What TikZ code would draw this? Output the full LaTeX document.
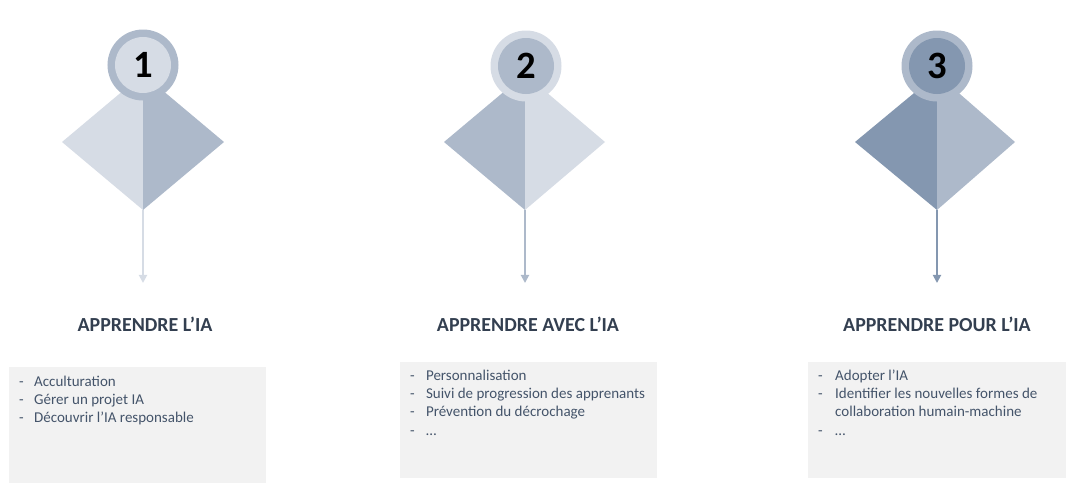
\documentclass[tikz,border=0pt]{standalone}
\usepackage{fontspec}
\setmainfont{Carlito}
\usetikzlibrary{arrows.meta}
\definecolor{pale}{HTML}{D6DCE5}
\definecolor{mid}{HTML}{ADB9CA}
\definecolor{deep}{HTML}{8497B0}
\definecolor{titlegrey}{HTML}{333F50}
\definecolor{listgrey}{HTML}{44546A}
\definecolor{boxgrey}{HTML}{F2F2F2}
\tikzset{
  ring/.style={circle, minimum size=2.13cm, inner sep=0pt},
  disc/.style={circle, minimum size=1.68cm, inner sep=0pt, text=black,
    font=\fontsize{33}{33}\selectfont\bfseries},
  heading/.style={font=\fontsize{17}{19}\selectfont\bfseries, text=titlegrey},
  drop/.style={line width=1.6pt, -{Triangle[length=7pt,width=7pt]}},
  items/.style={anchor=north west, inner sep=0pt, text=listgrey,
    font=\fontsize{12.8}{15.7}\selectfont}
}
\begin{document}
\begin{tikzpicture}[x=0.03cm, y=-0.03cm]
\useasboundingbox (0,0) rectangle (1087,497);
% first column
\fill[pale] (62,142) -- (143,74) -- (143,210) -- cycle;
\fill[mid] (143,74) -- (224,142) -- (143,210) -- cycle;
\coordinate (tip1) at (143,210);
\coordinate (end1) at (143,283);
\draw[drop, pale] (tip1) -- (end1);
\node[ring, fill=mid] (ring1) at (143,65) {};
\node[disc, fill=pale] (num1) at (ring1) {1};
\node[heading] (title1) at (145,324) {APPRENDRE L’IA};
\fill[boxgrey] (9,367) rectangle (266,483);
\node[items] (list1) at (19,373) {\begin{tabular}{@{}p{12.75pt}@{}l@{}}
- & Acculturation\\
- & Gérer un projet IA\\
- & Découvrir l’IA responsable
\end{tabular}};
% second column
\fill[mid] (444,142) -- (525,74) -- (525,210) -- cycle;
\fill[pale] (525,74) -- (605,142) -- (525,210) -- cycle;
\coordinate (tip2) at (525,210);
\coordinate (end2) at (525,283);
\draw[drop, mid] (tip2) -- (end2);
\node[ring, fill=pale] (ring2) at (526,66) {};
\node[disc, fill=mid] (num2) at (ring2) {2};
\node[heading] (title2) at (528,324) {APPRENDRE AVEC L’IA};
\fill[boxgrey] (400,362) rectangle (657,478);
\node[items] (list2) at (410,367) {\begin{tabular}{@{}p{13.5pt}@{}l@{}}
- & Personnalisation\\
- & Suivi de progression des apprenants\\
- & Prévention du décrochage\\
- & \ldots
\end{tabular}};
% third column
\fill[deep] (855,142) -- (937,74) -- (937,210) -- cycle;
\fill[mid] (937,74) -- (1015,142) -- (937,210) -- cycle;
\coordinate (tip3) at (937,210);
\coordinate (end3) at (937,283);
\draw[drop, deep] (tip3) -- (end3);
\node[ring, fill=mid] (ring3) at (937,66) {};
\node[disc, fill=deep] (num3) at (ring3) {3};
\node[heading] (title3) at (937,324) {APPRENDRE POUR L’IA};
\fill[boxgrey] (808,362) rectangle (1066,478);
\node[items] (list3) at (818,367) {\begin{tabular}{@{}p{14.5pt}@{}l@{}}
- & Adopter l’IA\\
- & Identifier les nouvelles formes de\\
  & collaboration humain-machine\\
- & \ldots
\end{tabular}};
\end{tikzpicture}
\end{document}
